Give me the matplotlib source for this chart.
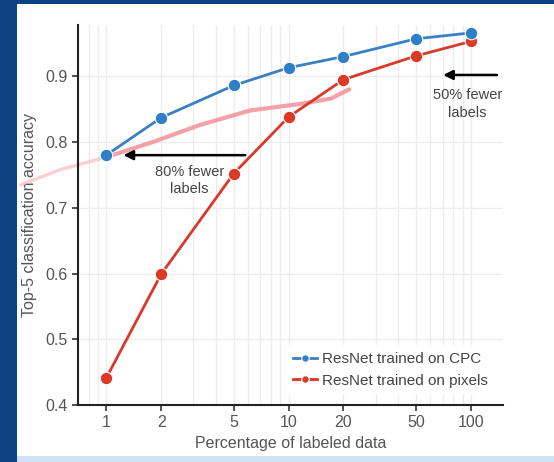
import matplotlib.pyplot as plt
import matplotlib.patches as mpatches
import numpy as np

plt.rcParams['font.family'] = ['Liberation Sans', 'DejaVu Sans']

# data
pct_labeled = [1, 2, 5, 10, 20, 50, 100]
acc_cpc = [0.780, 0.837, 0.886, 0.913, 0.930, 0.957, 0.966]
acc_pixels = [0.441, 0.599, 0.752, 0.838, 0.895, 0.931, 0.953]
xtick_vals = [1, 2, 5, 10, 20, 50, 100]
ytick_vals = [0.4, 0.5, 0.6, 0.7, 0.8, 0.9]

# hand-drawn pink pen stroke on the slide (faint tail + main stroke)
stroke_tail_x = [0.34, 0.56, 1.0]
stroke_tail_y = [0.735, 0.758, 0.777]
stroke_x = [1.0, 1.8, 3.27, 6.15, 11.6, 17.0, 21.5]
stroke_y = [0.777, 0.800, 0.826, 0.848, 0.858, 0.866, 0.880]

blue = '#3b80c2'
red = '#d8392b'

fig = plt.figure(figsize=(5.54, 4.62), dpi=100)
fig.patch.set_facecolor('#0a4282')
# white slide panel and light strip at the bottom
fig.add_artist(mpatches.Rectangle((17 / 554, 6 / 462), 1, 452 / 462, transform=fig.transFigure,
                                  facecolor='white', edgecolor='none', zorder=0))
fig.add_artist(mpatches.Rectangle((17 / 554, 0), 1, 6 / 462, transform=fig.transFigure,
                                  facecolor='#cfe3f5', edgecolor='none', zorder=0))

ax = fig.add_axes([78 / 554, (462 - 405) / 462, (503 - 78) / 554, (405 - 25) / 462])
ax.set_facecolor('white')
ax.set_xscale('log')
ax.set_xlim(0.70, 150)
ax.set_ylim(0.4, 0.978)

ax.grid(True, which='both', axis='x', color='#ededed', lw=1.0)
ax.grid(True, which='major', axis='y', color='#ededed', lw=1.0)
ax.set_axisbelow(True)

ax.plot(stroke_tail_x, stroke_tail_y, color='#f6b3b8', lw=2.5, alpha=0.6, solid_capstyle='round',
        clip_on=False, zorder=2)
ax.plot(stroke_x, stroke_y, color='#f28a94', lw=3, alpha=0.8, solid_capstyle='round',
        clip_on=False, zorder=2)

ax.plot(pct_labeled, acc_cpc, '-o', color=blue, lw=2, ms=9, mfc='#2f7fc8', mec='white', mew=0.8,
        label='ResNet trained on CPC', zorder=4)
ax.plot(pct_labeled, acc_pixels, '-o', color=red, lw=2, ms=9, mfc='#dc3a26', mec='white', mew=0.8,
        label='ResNet trained on pixels', zorder=3)

ax.set_xticks(xtick_vals)
ax.set_xticklabels([str(v) for v in xtick_vals])
ax.xaxis.set_minor_formatter(plt.NullFormatter())
ax.set_yticks(ytick_vals)
ax.set_yticklabels([f'{v:.1f}' for v in ytick_vals])
ax.tick_params(axis='both', which='major', labelsize=11.5, labelcolor='#555555', color='#333333',
               length=4, width=1.2)
ax.tick_params(axis='x', which='minor', length=0)

for side in ['top', 'right']:
    ax.spines[side].set_visible(False)
for side in ['left', 'bottom']:
    ax.spines[side].set_color('#222222')
    ax.spines[side].set_linewidth(1.5)

ax.set_xlabel('Percentage of labeled data', fontsize=11.5, color='#555555', labelpad=4)
ax.set_ylabel('Top-5 classification accuracy', fontsize=11.5, color='#555555', labelpad=6)

# annotations
ax.annotate('', xy=(1.2, 0.780), xytext=(6.0, 0.780),
            arrowprops=dict(arrowstyle='-|>', color='black', lw=1.8, mutation_scale=14))
ax.text(2.85, 0.741, '80% fewer\nlabels', ha='center', va='center', fontsize=10.5,
        color='#444444', linespacing=1.3)
ax.annotate('', xy=(68, 0.902), xytext=(144, 0.902),
            arrowprops=dict(arrowstyle='-|>', color='black', lw=1.8, mutation_scale=14))
ax.text(96, 0.858, '50% fewer\nlabels', ha='center', va='center', fontsize=10.5,
        color='#444444', linespacing=1.3)

leg = ax.legend(loc='lower right', bbox_to_anchor=(1.0, 0.005), fontsize=11, frameon=True,
                fancybox=False, handlelength=1.6, handletextpad=0.3, borderpad=0.5,
                labelcolor='#444444', markerscale=0.6)
leg.get_frame().set_edgecolor('none')
leg.get_frame().set_facecolor('white')
leg.get_frame().set_alpha(1.0)

fig.savefig('out.png', dpi=100, facecolor=fig.get_facecolor())
